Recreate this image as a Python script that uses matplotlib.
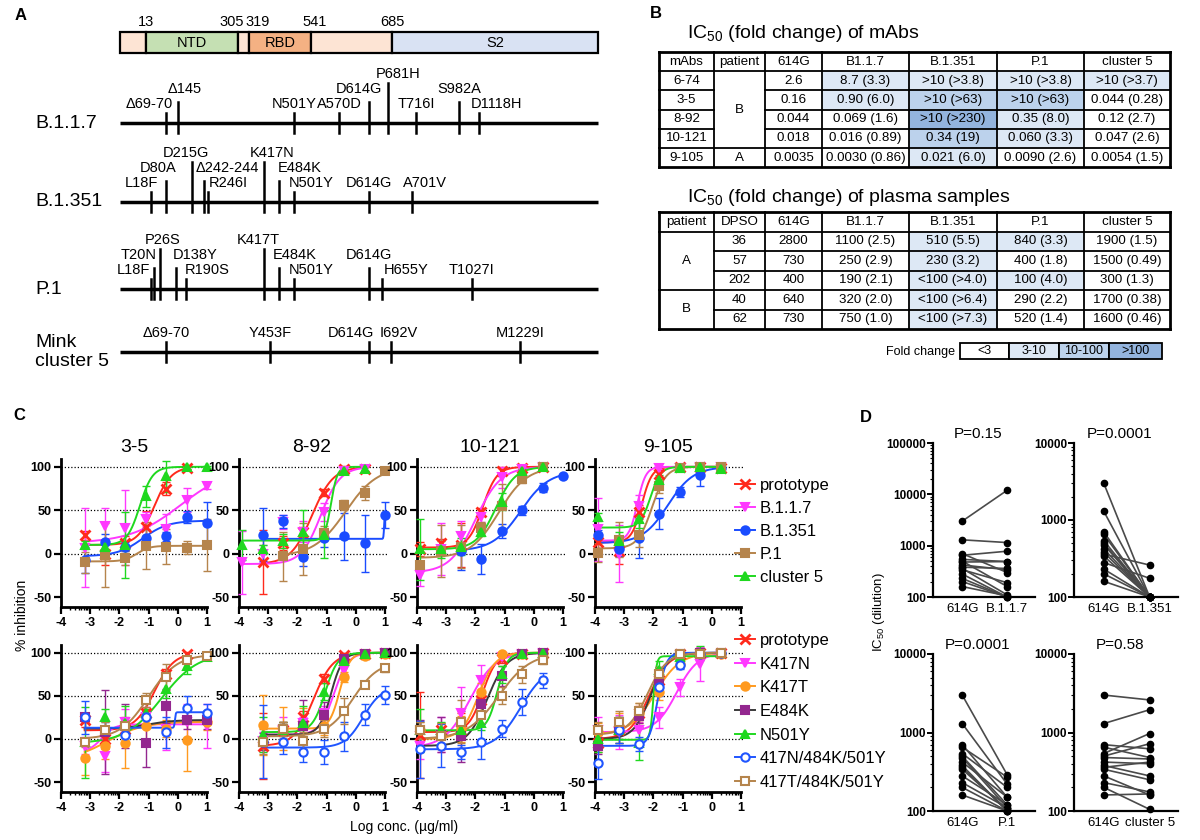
import numpy as np
import matplotlib.pyplot as plt
from matplotlib.patches import Rectangle
from matplotlib.lines import Line2D

plt.rcParams['font.family'] = ['Liberation Sans', 'DejaVu Sans']
plt.rcParams['mathtext.default'] = 'regular'
plt.rcParams['axes.unicode_minus'] = False

W, H = 1200, 840
fig = plt.figure(figsize=(12, 8.4), dpi=100)


def px_axes(x0, y0, x1, y1):
    # axes placed by pixel box (top-left origin)
    return fig.add_axes([x0 / W, 1 - y1 / H, (x1 - x0) / W, (y1 - y0) / H])


def ftext(x, y, s, **kw):
    fig.text(x / W, 1 - y / H, s, **kw)


# ---------------- A: spike schematic ----------------
domain_edges = [0, 5.4, 24.7, 27.0, 40.0, 56.9, 100]   # position along the bar (%)
domain_names = ['', 'NTD', '', 'RBD', '', 'S2']
domain_colors = ['#fde4d4', '#c5e0b3', '#fde4d4', '#f4b183', '#fde4d4', '#d9e2f3']
boundary_aa = ['13', '305', '319', '541', '685']

# (mutation, position along bar %, label row)
mut_b117 = [('Δ69-70', 9.6, 0), ('Δ145', 12.1, 1), ('N501Y', 36.4, 0), ('A570D', 45.8, 0),
            ('D614G', 52.1, 1), ('P681H', 56.1, 2), ('T716I', 61.9, 0), ('S982A', 70.9, 1),
            ('D1118H', 75.1, 0)]
mut_b1351 = [('L18F', 6.5, 0), ('D80A', 9.6, 1), ('D215G', 15.1, 2), ('Δ242-244', 17.6, 1),
             ('R246I', 18.4, 0), ('K417N', 30.1, 2), ('E484K', 33.3, 1), ('N501Y', 36.4, 0),
             ('D614G', 52.1, 0), ('A701V', 61.1, 0)]
mut_p1 = [('L18F', 6.5, 0), ('T20N', 7.1, 1), ('P26S', 8.4, 2), ('D138Y', 11.7, 1),
          ('R190S', 13.8, 0), ('K417T', 30.1, 2), ('E484K', 33.3, 1), ('N501Y', 36.4, 0),
          ('D614G', 52.1, 1), ('H655Y', 54.8, 0), ('T1027I', 73.6, 0)]
mut_mink = [('Δ69-70', 9.6, 0), ('Y453F', 31.4, 0), ('D614G', 52.1, 0), ('I692V', 56.7, 0),
            ('M1229I', 83.7, 0)]

variant_tracks = [('B.1.1.7', mut_b117), ('B.1.351', mut_b1351), ('P.1', mut_p1),
                  ('Mink\ncluster 5', mut_mink)]

# label nudges in px (layout only)
nudge = {
    'B.1.1.7': {'Δ69-70': -17, 'Δ145': 7, 'D614G': -10, 'P681H': 10, 'D1118H': 18},
    'B.1.351': {'L18F': -10, 'D80A': -8, 'D215G': -6, 'Δ242-244': 23, 'R246I': 20,
                'K417N': 8, 'E484K': 21, 'N501Y': 17, 'A701V': 13},
    'P.1': {'L18F': -18, 'T20N': -15, 'P26S': 2, 'D138Y': 19, 'R190S': 21, 'K417T': -6,
            'E484K': 16, 'N501Y': 17, 'H655Y': 24},
    'Mink\ncluster 5': {'D614G': -18, 'I692V': 8},
}
track_y = [123, 202, 289, 352]
label_dy = [-19, -34, -49]
tick_top = [-10, -21, -40]
PXU = 4.78  # px per bar-percent

axA = px_axes(0, 0, 600, 400)
axA.set_xlim(-120 / PXU, 480 / PXU)
axA.set_ylim(400, 0)
axA.axis('off')

for i, nm in enumerate(domain_names):
    x0, x1 = domain_edges[i], domain_edges[i + 1]
    axA.add_patch(Rectangle((x0, 32), x1 - x0, 21, fc=domain_colors[i], ec='black', lw=1.6))
    if nm:
        axA.text((x0 + x1) / 2, 43, nm, ha='center', va='center', fontsize=10.5)
bnd_nudge = [0, -6, 9, 3, 0]
for lab, pos, dx in zip(boundary_aa, domain_edges[1:6], bnd_nudge):
    axA.text(pos + dx / PXU, 22, lab, ha='center', va='center', fontsize=10.5)

for (vname, muts), ly in zip(variant_tracks, track_y):
    axA.plot([0, 100], [ly, ly], color='black', lw=2.5, solid_capstyle='butt')
    ftext(35, ly, vname, ha='left', va='center', fontsize=14, linespacing=1.15)
    for name, pos, lev in muts:
        axA.plot([pos, pos], [ly + 10, ly + tick_top[lev]], color='black', lw=1.8)
        dx = nudge[vname].get(name, 0) / PXU
        axA.text(pos + dx, ly + label_dy[lev], name, ha='center', va='center', fontsize=10.5)

ftext(15, 16, 'A', fontsize=12, fontweight='bold', ha='left', va='center')

# ---------------- B: IC50 tables ----------------
tab_variants = ['B1.1.7', 'B.1.351', 'P.1', 'cluster 5']

mab_names = ['6-74', '3-5', '8-92', '10-121', '9-105']
mab_patient = ['B', 'B', 'B', 'B', 'A']
mab_614g = ['2.6', '0.16', '0.044', '0.018', '0.0035']
mab_ic50 = [['8.7', '>10', '>10', '>10'],
            ['0.90', '>10', '>10', '0.044'],
            ['0.069', '>10', '0.35', '0.12'],
            ['0.016', '0.34', '0.060', '0.047'],
            ['0.0030', '0.021', '0.0090', '0.0054']]
mab_fold = [['3.3', '>3.8', '>3.8', '>3.7'],
            ['6.0', '>63', '>63', '0.28'],
            ['1.6', '>230', '8.0', '2.7'],
            ['0.89', '19', '3.3', '2.6'],
            ['0.86', '6.0', '2.6', '1.5']]

plasma_patient = ['A', 'A', 'A', 'B', 'B']
plasma_dpso = ['36', '57', '202', '40', '62']
plasma_614g = ['2800', '730', '400', '640', '730']
plasma_ic50 = [['1100', '510', '840', '1900'],
               ['250', '230', '400', '1500'],
               ['190', '<100', '100', '300'],
               ['320', '<100', '290', '1700'],
               ['750', '<100', '520', '1600']]
plasma_fold = [['2.5', '5.5', '3.3', '1.5'],
               ['2.9', '3.2', '1.8', '0.49'],
               ['2.1', '>4.0', '4.0', '1.3'],
               ['2.0', '>6.4', '2.2', '0.38'],
               ['1.0', '>7.3', '1.4', '0.46']]

fold_bins = [3, 10, 100]
fold_labels = ['<3', '3-10', '10-100', '>100']
fold_colors = ['white', '#dde8f5', '#bcd2ec', '#93b4de']


def fold_color(s):
    v = float(s.strip('<>'))
    return fold_colors[int(np.searchsorted(fold_bins, v, side='right'))]


axB = px_axes(600, 0, 1200, 400)
axB.set_xlim(600, 1200)
axB.set_ylim(400, 0)
axB.axis('off')
col_edges = [659, 714, 765, 822, 909, 997, 1084, 1170]
col_mid = [(a + b) / 2 for a, b in zip(col_edges[:-1], col_edges[1:])]
TFS = 9.6


def draw_table(top, rowh, header, c0, c1, c2, ic, fold, merge_col):
    n = len(ic)
    ye = [top + i * rowh for i in range(n + 2)]
    for i in range(n):
        for j in range(4):
            axB.add_patch(Rectangle((col_edges[3 + j], ye[i + 1]), col_edges[4 + j] - col_edges[3 + j],
                                    rowh, fc=fold_color(fold[i][j]), ec='none'))
    for j, h in enumerate(header):
        axB.text(col_mid[j], ye[0] + rowh / 2, h, ha='center', va='center', fontsize=TFS)
    cols = [c0, c1, c2]
    for i in range(n):
        yc = ye[i + 1] + rowh / 2
        for j in range(3):
            if j != merge_col:
                axB.text(col_mid[j], yc, cols[j][i], ha='center', va='center', fontsize=TFS)
        for j in range(4):
            axB.text(col_mid[3 + j], yc, '%s (%s)' % (ic[i][j], fold[i][j]),
                     ha='center', va='center', fontsize=TFS)
    # merged column groups
    g = cols[merge_col]
    start = 0
    for i in range(1, n + 1):
        if i == n or g[i] != g[start]:
            axB.text(col_mid[merge_col], (ye[start + 1] + ye[i + 1]) / 2, g[start],
                     ha='center', va='center', fontsize=TFS)
            start = i
    # grid lines
    for k, xe in enumerate(col_edges):
        axB.plot([xe, xe], [ye[0], ye[-1]], color='black',
                 lw=2.0 if k in (0, len(col_edges) - 1) else 1.3)
    for i, y in enumerate(ye):
        outer = i in (0, len(ye) - 1)
        if 1 < i < len(ye) - 1 and g[i - 2] == g[i - 1]:
            xs = [col_edges[0], col_edges[merge_col]], [col_edges[merge_col + 1], col_edges[-1]]
            for a, b in xs:
                if b > a:
                    axB.plot([a, b], [y, y], color='black', lw=1.3)
        else:
            axB.plot([col_edges[0], col_edges[-1]], [y, y], color='black', lw=2.0 if outer else 1.3)


ftext(687, 33, 'IC$_{50}$ (fold change) of mAbs', fontsize=14, ha='left', va='center')
draw_table(52, 19.2, ['mAbs', 'patient', '614G'] + tab_variants,
           mab_names, mab_patient, mab_614g, mab_ic50, mab_fold, merge_col=1)
ftext(687, 198, 'IC$_{50}$ (fold change) of plasma samples', fontsize=14, ha='left', va='center')
draw_table(212, 19.5, ['patient', 'DPSO', '614G'] + tab_variants,
           plasma_patient, plasma_dpso, plasma_614g, plasma_ic50, plasma_fold, merge_col=0)

# fold-change key
key_edges = [960, 1009, 1059, 1109, 1162]
axB.text(955, 352, 'Fold change', ha='right', va='center', fontsize=9)
for k, lab in enumerate(fold_labels):
    axB.add_patch(Rectangle((key_edges[k], 343), key_edges[k + 1] - key_edges[k], 16,
                            fc=fold_colors[k], ec='black', lw=1.3))
    axB.text((key_edges[k] + key_edges[k + 1]) / 2, 351, lab, ha='center', va='center', fontsize=9)

ftext(650, 14, 'B', fontsize=12, fontweight='bold', ha='left', va='center')

# ---------------- C: neutralization curves ----------------
LOGC = [-3.89, -3.19, -2.50, -1.80, -1.10, -0.40, 0.30, 1.00]   # log10 ug/ml
mabs_c = ['3-5', '8-92', '10-121', '9-105']
nan = np.nan

top_names = ['prototype', 'B.1.1.7', 'B.1.351', 'P.1', 'cluster 5']
top_style = [('#ff2a1c', 'x', '#ff2a1c', '#ff2a1c'), ('#ff38ff', 'v', '#ff38ff', '#ff38ff'),
             ('#1a4cff', 'o', '#1a4cff', '#1a4cff'), ('#b5844c', 's', '#b5844c', '#b5844c'),
             ('#1fd81f', '^', '#1fd81f', '#1fd81f')]
top_vals = {
    '3-5': [[nan, 21, -1, 12, 31, 75, 99, nan], [nan, 7, 32, 30, 40, 28, 62, 78],
            [nan, -7, 13, 8, 18, 20, 42, 35], [nan, -10, -2, -5, 9, 8, 7, 10],
            [nan, 10, 8, 10, 66, 89, 100, 100]],
    '8-92': [[nan, -10, 12, 25, 70, 98, 98, nan], [-10, 0, 36, 25, 48, 95, 98, nan],
             [nan, 22, 37, -4, 18, 20, 12, 45], [nan, nan, -3, 5, 24, 56, 70, 95],
             [10, 5, 15, 25, 22, 95, 98, nan]],
    '10-121': [[5, 12, 10, 48, 95, 99, 100, nan], [-25, 5, 20, 42, 88, 98, 100, nan],
               [nan, nan, 3, -6, 26, 50, 76, 89], [-13, 3, 8, 30, 55, 86, 100, nan],
               [5, 5, 8, 25, 60, 95, 100, nan]],
    '9-105': [[13, 3, 48, 92, 100, 100, 99, nan], [28, 0, 55, 99, 99, 100, 100, nan],
              [22, 5, 18, 46, 71, 90, 99, nan], [1, 16, 22, 78, 99, 100, 100, nan],
              [42, 15, 40, 85, 99, 100, 98, nan]],
}
top_errs = {
    '3-5': [[nan, 5, 12, 8, 18, 7, 2, nan], [nan, 45, 20, 43, 8, 18, 14, 4],
            [nan, 15, 10, 5, 10, 5, 7, 25], [nan, 12, 37, 8, 27, 20, 8, 30],
            [nan, 5, 5, 38, 12, 18, 2, 1]],
    '8-92': [[nan, 37, 8, 6, 4, 3, 3, nan], [36, 10, 8, 12, 10, 3, 4, nan],
             [nan, 31, 7, 10, 10, 27, 33, 15], [nan, nan, 28, 30, 8, 6, 8, 2],
             [17, 5, 8, 25, 27, 3, 3, nan]],
    '10-121': [[8, 5, 25, 5, 5, 2, 1, nan], [12, 30, 18, 6, 12, 2, 1, nan],
               [nan, nan, 22, 17, 8, 5, 5, 2], [5, 30, 25, 6, 25, 5, 1, nan],
               [35, 10, 10, 5, 10, 3, 1, nan]],
    '9-105': [[8, 15, 8, 4, 1, 1, 1, nan], [36, 33, 12, 1, 1, 1, 1, nan],
              [5, 8, 23, 18, 6, 12, 2, nan], [11, 20, 14, 8, 1, 1, 1, nan],
              [5, 10, 10, 5, 1, 1, 2, nan]],
}
# 4-parameter fits: bottom, top, logIC50, hill
top_fits = {
    '3-5': [(10, 100, -0.8, 1.5), (12, 100, 0.1, 0.5), (-3, 38, -1.2, 1.0),
            (-9, 9, -1.4, 2.0), (10, 100, -1.3, 2.0)],
    '8-92': [(-12, 100, -1.5, 1.2), (-12, 100, -1.2, 1.3), (17, 48, 0.97, 40),
             (-3, 100, -0.35, 0.8), (15, 100, -0.85, 4.0)],
    '10-121': [(7, 100, -1.75, 1.8), (-22, 100, -2.0, 1.0), (3, 95, -0.45, 0.9),
               (-5, 100, -1.2, 0.9), (5, 100, -1.3, 1.3)],
    '9-105': [(13, 100, -2.4, 2.5), (15, 100, -2.55, 3.0), (12, 100, -1.5, 1.0),
              (6, 100, -2.05, 1.8), (30, 100, -2.1, 2.5)],
}

bot_names = ['prototype', 'K417N', 'K417T', 'E484K', 'N501Y', '417N/484K/501Y', '417T/484K/501Y']
bot_style = [('#ff2a1c', 'x', '#ff2a1c', '#ff2a1c'), ('#ff38ff', 'v', '#ff38ff', '#ff38ff'),
             ('#ff9a1f', 'o', '#ff9a1f', '#ff9a1f'), ('#93278f', 's', '#93278f', '#3a3a3a'),
             ('#1fd81f', '^', '#1fd81f', '#1fd81f'), ('#1f55ff', 'o', 'white', '#1f55ff'),
             ('#b5844c', 's', 'white', '#b5844c')]
bot_vals = {
    '3-5': [[nan, 22, 0, 12, 30, 75, 98, nan], [nan, -8, -20, 20, 25, 12, 20, 15],
            [nan, -22, -8, -5, 15, 12, -1, 20], [nan, 25, 8, 15, -5, 38, 22, 22],
            [nan, -4, 25, 18, 30, 58, 85, 95], [nan, 25, 10, 5, 25, 8, 36, 30],
            [nan, -4, 10, 15, 45, 72, 92, 96]],
    '8-92': [[nan, -8, 10, 25, 70, 97, 99, 100], [nan, -2, 10, 18, 30, 80, 99, 100],
             [nan, 16, 12, 16, 15, 72, 96, 98], [nan, -3, 12, 15, 28, 93, 99, 100],
             [nan, 5, 10, 18, 55, 90, 99, 100], [nan, -3, -3, -15, -15, 3, 28, 51],
             [nan, -3, 12, -2, 12, 32, 63, 82]],
    '10-121': [[5, 10, 10, 45, 93, 99, 100, nan], [-8, 5, 30, 68, 95, 98, 100, nan],
               [10, 3, 12, 55, 98, 99, 100, nan], [10, 5, 3, 40, 73, 99, 100, nan],
               [10, 10, 10, 18, 75, 98, 100, nan], [-12, -8, -15, -3, 12, 43, 68, nan],
               [10, 3, 20, 28, 50, 75, 92, nan]],
    '9-105': [[-5, 10, 30, 68, 98, 100, 100, nan], [10, 8, 10, 25, 60, 87, 97, nan],
              [8, 15, 30, 55, 87, 98, 99, nan], [-8, 10, 27, 68, 99, 100, 100, nan],
              [0, 10, -5, 80, 95, 100, 100, nan], [-28, 10, -6, 60, 86, 99, 100, nan],
              [10, 20, 32, 75, 99, 99, 100, nan]],
}
bot_errs = {
    '3-5': [[nan, 8, 12, 10, 15, 6, 3, nan], [nan, 10, 18, 15, 12, 25, 20, 25],
            [nan, 20, 15, 29, 20, 10, 36, 10], [nan, 5, 49, 25, 28, 20, 10, 10],
            [nan, 41, 10, 20, 5, 10, 10, 2], [nan, 19, 10, 10, 8, 18, 14, 10],
            [nan, 5, 10, 10, 8, 15, 4, 3]],
    '8-92': [[nan, 38, 10, 8, 5, 3, 2, 1], [nan, 10, 15, 8, 8, 5, 2, 1],
             [nan, 35, 25, 20, 10, 6, 3, 2], [nan, 10, 8, 30, 15, 4, 1, 1],
             [nan, 20, 10, 20, 10, 4, 1, 1], [nan, 42, 15, 12, 14, 17, 12, 10],
             [nan, 15, 8, 10, 10, 15, 4, 4]],
    '10-121': [[50, 8, 20, 8, 5, 2, 1, nan], [15, 20, 30, 18, 5, 2, 1, nan],
               [10, 15, 15, 10, 3, 1, 1, nan], [12, 20, 30, 15, 12, 1, 1, nan],
               [25, 10, 10, 8, 10, 2, 1, nan], [33, 25, 8, 20, 10, 15, 9, nan],
               [10, 15, 25, 10, 10, 10, 5, nan]],
    '9-105': [[10, 15, 8, 8, 2, 1, 1, nan], [16, 20, 10, 12, 10, 20, 2, nan],
              [10, 15, 12, 10, 5, 2, 1, nan], [10, 10, 8, 15, 2, 1, 1, nan],
              [15, 15, 19, 10, 5, 8, 1, nan], [19, 15, 8, 10, 5, 2, 1, nan],
              [10, 12, 10, 8, 1, 1, 1, nan]],
}
bot_fits = {
    '3-5': [(10, 100, -0.8, 1.3), (-15, 17, -2.6, 2.0), (-25, 20, -2.4, 0.7),
            (12, 22, -1.0, 1.0), (-5, 100, -0.55, 0.7), (13, 31, -0.1, 30),
            (0, 98, -1.0, 0.9)],
    '8-92': [(-8, 100, -1.45, 1.3), (5, 100, -0.75, 1.8), (12, 100, -0.55, 2.5),
             (5, 100, -0.85, 2.2), (8, 100, -1.05, 2.0), (-10, 60, 0.25, 1.4),
             (3, 90, -0.1, 1.0)],
    '10-121': [(8, 100, -1.75, 1.8), (-10, 100, -2.2, 1.0), (0, 100, -1.9, 1.5),
               (-8, 100, -1.6, 1.3), (10, 100, -1.25, 2.5), (-12, 85, -0.45, 1.0),
               (0, 100, -1.2, 0.8)],
    '9-105': [(0, 100, -2.15, 1.3), (8, 100, -1.2, 1.2), (5, 100, -1.95, 1.0),
              (0, 100, -2.1, 1.5), (-1, 96, -2.0, 8), (-8, 100, -1.85, 3.0),
              (5, 100, -2.2, 1.3)],
}


def marker_kw(color, marker, mfc):
    if marker == 'x':
        return dict(marker='x', ms=7, mew=2.0, mec=color)
    return dict(marker=marker, ms=6, mfc=mfc, mec=color, mew=1.5)


def curve_panel(ax, vals, errs, fits, styles):
    x = np.array(LOGC)
    for (color, marker, mfc, lcolor), y, e, (b, t, ic, h) in zip(styles, vals, errs, fits):
        y = np.array(y, float)
        e = np.array(e, float)
        ok = ~np.isnan(y)
        xs = np.linspace(x[ok].min(), x[ok].max(), 300)
        ax.plot(xs, b + (t - b) / (1 + 10 ** ((ic - xs) * h)), color=lcolor, lw=1.4, zorder=3)
        ax.errorbar(x[ok], y[ok], yerr=e[ok], fmt='none', ecolor=color, elinewidth=1,
                    capsize=3, capthick=1, zorder=3, clip_on=False)
        ax.plot(x[ok], y[ok], ls='none', color=color, zorder=4, clip_on=False,
                **marker_kw(color, marker, mfc))
    for v in (0, 50, 100):
        ax.plot([-4, 1.1], [v, v], color='black', lw=0.9, ls=(0, (1, 1.6)), zorder=1, clip_on=False)
    ax.set_xlim(-4, 1)
    ax.set_ylim(-61.5, 109)
    for s in ('top', 'right'):
        ax.spines[s].set_visible(False)
    for s in ('left', 'bottom'):
        ax.spines[s].set_linewidth(2)
    ax.set_xticks(range(-4, 2))
    ax.set_xticks([d + np.log10(m) for d in range(-4, 1) for m in range(2, 10)], minor=True)
    ax.set_yticks([-50, 0, 50, 100])
    ax.tick_params(which='major', length=5, width=1.6, labelsize=9, pad=2)
    ax.tick_params(which='minor', length=2.5, width=1)
    for lab in ax.get_xticklabels() + ax.get_yticklabels():
        lab.set_fontweight('bold')


for k, mab in enumerate(mabs_c):
    x0 = 61 + 178 * k
    ax = px_axes(x0, 459, x0 + 146, 607)
    curve_panel(ax, top_vals[mab], top_errs[mab], top_fits[mab], top_style)
    ax.set_title(mab, fontsize=14, pad=5)
    ax2 = px_axes(x0, 645, x0 + 146, 792)
    curve_panel(ax2, bot_vals[mab], bot_errs[mab], bot_fits[mab], bot_style)


def legend_handles(styles):
    return [Line2D([], [], color=lc, ls='-', lw=1.4, **marker_kw(c, m, f)) for c, m, f, lc in styles]


fig.legend(legend_handles(top_style), top_names, loc='upper left',
           bbox_to_anchor=(735 / W, 1 - 478 / H), frameon=False, fontsize=12,
           handlelength=1.2, handletextpad=0.3, labelspacing=0.48, borderpad=0, borderaxespad=0)
fig.legend(legend_handles(bot_style), bot_names, loc='upper left',
           bbox_to_anchor=(735 / W, 1 - 633 / H), frameon=False, fontsize=12,
           handlelength=1.2, handletextpad=0.3, labelspacing=0.52, borderpad=0, borderaxespad=0)

ftext(22, 615, '% inhibition', rotation=90, ha='center', va='center', fontsize=10)
ftext(404, 827, 'Log conc. (µg/ml)', ha='center', va='center', fontsize=10)
ftext(13, 415, 'C', fontsize=12, fontweight='bold', ha='left', va='center')

# ---------------- D: paired plasma IC50 ----------------
d_614g = [3000, 1300, 700, 650, 540, 500, 480, 420, 380, 360, 340, 280, 230, 200, 160]
d_b117 = [12000, 1150, 300, 780, 490, 160, 490, 340, 360, 110, 190, 100, 100, 100, 105]
d_b1351 = [100, 100, 100, 100, 100, 100, 100, 100, 100, 260, 100, 175, 100, 100, 100]
d_p1 = [290, 220, 150, 270, 200, 120, 110, 150, 100, 100, 105, 120, 110, 100, 100]
d_c5 = [2600, 1950, 620, 480, 970, 720, 460, 400, 280, 420, 250, 160, 175, 105, 165]
d_sets = [('B.1.1.7', d_b117, 'P=0.15', 100000), ('B.1.351', d_b1351, 'P=0.0001', 10000),
          ('P.1', d_p1, 'P=0.0001', 10000), ('cluster 5', d_c5, 'P=0.58', 10000)]
d_boxes = [(933, 443, 1035, 597), (1074, 443, 1178, 597),
           (933, 654, 1035, 811), (1074, 654, 1178, 811)]

for (vname, vals, ptxt, ytop), (x0, y0, x1, y1) in zip(d_sets, d_boxes):
    ax = px_axes(x0, y0, x1, y1)
    for a, b in zip(d_614g, vals):
        ax.plot([0, 1], [a, b], color='#4a4a4a', lw=1.2, marker='o', ms=4.5,
                mfc='black', mec='black', clip_on=False)
    ax.set_yscale('log')
    ax.set_ylim(100, ytop)
    ax.set_xlim(-0.65, 1.62)
    for s in ('top', 'right'):
        ax.spines[s].set_visible(False)
    for s in ('left', 'bottom'):
        ax.spines[s].set_linewidth(1.6)
    ax.set_xticks([0, 1])
    ax.set_xticklabels(['614G', vname], fontsize=9.5)
    ticks = [10 ** p for p in range(2, int(np.log10(ytop)) + 1)]
    ax.set_yticks(ticks)
    ax.set_yticklabels(['%d' % t for t in ticks], fontsize=8.5, fontweight='bold')
    ax.tick_params(axis='x', length=0, pad=4)
    ax.tick_params(axis='y', which='major', length=4, width=1.4, pad=1)
    ax.tick_params(axis='y', which='minor', length=2, width=0.8)
    ftext((x0 + x1) / 2 - 6, y0 - 9, ptxt, ha='center', va='center', fontsize=11)

ftext(879, 612, 'IC$_{50}$ (dilution)', rotation=90, ha='center', va='center', fontsize=9.5)
ftext(860, 417, 'D', fontsize=12, fontweight='bold', ha='left', va='center')

fig.savefig('out.png', dpi=100, facecolor='white')
